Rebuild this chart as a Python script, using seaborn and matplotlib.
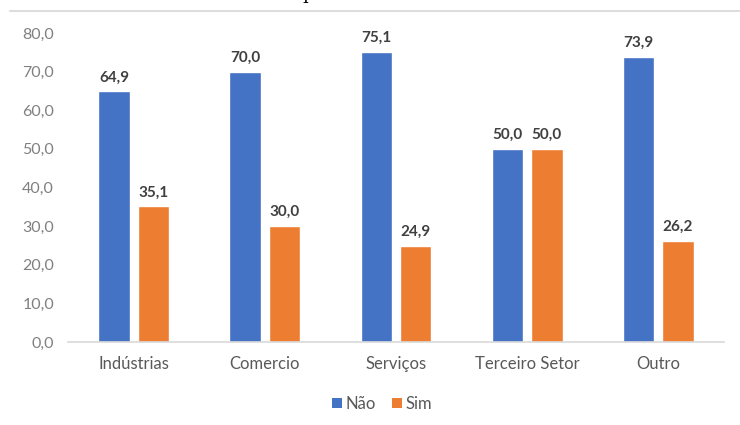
import matplotlib
matplotlib.use("Agg")
import matplotlib.pyplot as plt
import seaborn as sns
import pandas as pd
from matplotlib.lines import Line2D
from matplotlib.patches import Patch
from matplotlib.ticker import FuncFormatter

categories = ["Indústrias", "Comercio", "Serviços", "Terceiro Setor", "Outro"]
nao_values = [64.9, 70.0, 75.1, 50.0, 73.9]
sim_values = [35.1, 30.0, 24.9, 50.0, 26.2]
series_names = ["Não", "Sim"]
colors = ["#4472C4", "#ED7D31"]

df = pd.DataFrame({
    "cat": categories * 2,
    "val": nao_values + sim_values,
    "serie": [series_names[0]] * len(categories) + [series_names[1]] * len(categories),
})

sns.set_theme(style="white")
plt.rcParams["font.family"] = ["Lato", "DejaVu Sans"]

fig = plt.figure(figsize=(7.4, 4.25), dpi=100)
ax = fig.add_axes([68 / 740, 83 / 425, (724 - 68) / 740, (392 - 83) / 425])

sns.barplot(data=df, x="cat", y="val", hue="serie", palette=colors,
            width=0.6, gap=0.2, ax=ax, legend=False, saturation=1)

ax.set_ylim(0, 80)
ax.set_yticks(range(0, 81, 10))
ax.yaxis.set_major_formatter(FuncFormatter(lambda v, p: f"{v:.1f}".replace(".", ",")))
ax.set_xlabel("")
ax.set_ylabel("")
for s in ["top", "right", "left"]:
    ax.spines[s].set_visible(False)
ax.spines["bottom"].set_color("#D9D9D9")
ax.spines["bottom"].set_linewidth(1.2)
ax.tick_params(axis="y", length=0, pad=10, labelsize=11.5, labelcolor="#808080")
ax.tick_params(axis="x", length=0, pad=10, labelsize=12, labelcolor="#595959")

for cont in ax.containers:
    ax.bar_label(cont, labels=[f"{b.get_height():.1f}".replace(".", ",") for b in cont],
                 padding=5, fontsize=11, fontweight="bold", color="#404040")

handles = [Patch(facecolor=c, edgecolor="none") for c in colors]
fig.legend(handles, series_names, loc="center", bbox_to_anchor=(382 / 740, 21 / 425),
           ncol=2, frameon=False, fontsize=12, handlelength=0.6, handleheight=0.6,
           handletextpad=0.2, columnspacing=1.0, labelcolor="#595959")

fig.add_artist(Line2D([10 / 740, 1.0], [414 / 425, 414 / 425], color="#DDDDDD", lw=1.5))
fig.text(308 / 740, 426 / 425, "p", family="DejaVu Serif", fontsize=13, ha="center",
         va="baseline", color="black")

fig.savefig("out.png", dpi=100)
